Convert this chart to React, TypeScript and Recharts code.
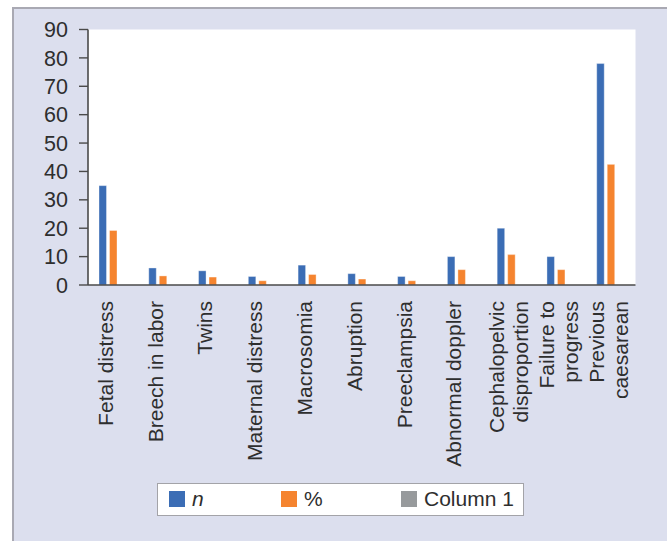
import React from "react";
import { BarChart, Bar, XAxis, YAxis, Legend } from "recharts";

// Indications for caesarean section: count (n) and share of cases (%)
const categories: string[][] = [
  ["Fetal distress"],
  ["Breech in labor"],
  ["Twins"],
  ["Maternal distress"],
  ["Macrosomia"],
  ["Abruption"],
  ["Preeclampsia"],
  ["Abnormal doppler"],
  ["Cephalopelvic", "disproportion"],
  ["Failure to", "progress"],
  ["Previous", "caesarean"],
];
const countN: number[] = [35, 6, 5, 3, 7, 4, 3, 10, 20, 10, 78];
const percent: number[] = [19.2, 3.2, 2.8, 1.5, 3.7, 2.1, 1.5, 5.4, 10.7, 5.4, 42.5];
const column1: (number | null)[] = [null, null, null, null, null, null, null, null, null, null, null];
const yTicks: number[] = [0, 10, 20, 30, 40, 50, 60, 70, 80, 90];

const seriesInfo = [
  { key: "n", label: "n", color: "#3b6db5", italic: true },
  { key: "pct", label: "%", color: "#f5842f", italic: false },
  { key: "col1", label: "Column 1", color: "#979a9c", italic: false },
];

const rows = categories.map((lines, i) => ({
  name: lines.join(" "),
  lines,
  n: countN[i],
  pct: percent[i],
  col1: column1[i],
}));

const FONT = "'Liberation Sans', Arial, Helvetica, sans-serif";
const TEXT = "#2e2e2e";
const AXIS = "#4a4a4a";

const CategoryTick = (props: any) => {
  const { x, y, index } = props;
  const lines = rows[index]?.lines ?? [String(props.payload?.value ?? "")];
  const first = lines.length > 1 ? -7 : 0;
  return (
    <g transform={`translate(${x},${y})`}>
      <text
        transform="rotate(-90)"
        textAnchor="end"
        fontFamily={FONT}
        fontSize={21}
        fill={TEXT}
      >
        {lines.map((ln: string, i: number) => (
          <tspan key={i} x={0} y={first + i * 24}>
            {ln}
          </tspan>
        ))}
      </text>
    </g>
  );
};

const LegendBox = () => (
  <div
    style={{
      boxSizing: "border-box",
      width: 367,
      height: 33,
      background: "#ffffff",
      border: "1.5px solid #a3a3a8",
      position: "relative",
      fontFamily: FONT,
      fontSize: 21,
      color: TEXT,
    }}
  >
    {seriesInfo.map((s, i) => {
      const left = [11, 123, 243][i];
      return (
        <div
          key={s.key}
          style={{
            position: "absolute",
            left,
            top: 6,
            display: "flex",
            alignItems: "center",
            height: 18,
          }}
        >
          <span
            style={{
              display: "inline-block",
              width: 16,
              height: 16,
              background: s.color,
              marginRight: 7,
            }}
          />
          <span style={{ fontStyle: s.italic ? "italic" : "normal", lineHeight: "18px" }}>
            {s.label}
          </span>
        </div>
      );
    })}
  </div>
);

export default function App() {
  return (
    <div
      style={{
        position: "absolute",
        left: 0,
        top: 0,
        width: 667,
        height: 541,
        background: "#ffffff",
        overflow: "hidden",
      }}
    >
      <div
        style={{
          position: "absolute",
          left: 12,
          top: 7,
          width: 660,
          height: 560,
          boxSizing: "border-box",
          background: "#dcdfee",
          border: "2px solid #a9a9b3",
        }}
      />
      <div style={{ position: "absolute", left: 0, top: 0 }}>
        <BarChart
          width={667}
          height={541}
          data={rows}
          margin={{ top: 29.5, right: 31.5, left: 0, bottom: 0 }}
          barSize={7.5}
          barGap={3}
        >
          <rect x={88} y={29.5} width={547.5} height={255.5} fill="#ffffff" />
          <XAxis
            dataKey="name"
            interval={0}
            height={256}
            tickLine={false}
            tickSize={0}
            tickMargin={16}
            axisLine={{ stroke: AXIS, strokeWidth: 1.6 }}
            tick={<CategoryTick />}
          />
          <XAxis
            xAxisId="top"
            dataKey="name"
            orientation="top"
            height={0}
            tick={false}
            tickLine={false}
            axisLine={{ stroke: AXIS, strokeWidth: 1.4 }}
          />
          <YAxis
            domain={[0, 90]}
            ticks={yTicks}
            width={88}
            interval={0}
            tickSize={9}
            tickMargin={11}
            axisLine={{ stroke: AXIS, strokeWidth: 1.6 }}
            tickLine={{ stroke: AXIS, strokeWidth: 1.4 }}
            tick={{ fontFamily: FONT, fontSize: 21.5, fill: TEXT }}
          />
          <YAxis
            yAxisId="right"
            orientation="right"
            width={0}
            tick={false}
            tickLine={false}
            axisLine={{ stroke: AXIS, strokeWidth: 1.4 }}
          />
          {seriesInfo.map((s) => (
            <Bar
              key={s.key}
              dataKey={s.key}
              name={s.label}
              fill={s.color}
              stroke="rgba(255,255,255,0.45)"
              strokeWidth={0.8}
              isAnimationActive={false}
            />
          ))}
          <Legend
            layout="horizontal"
            verticalAlign="middle"
            align="center"
            wrapperStyle={{ left: 157, top: 483, width: 367, height: 33 }}
            content={<LegendBox />}
          />
        </BarChart>
      </div>
    </div>
  );
}
